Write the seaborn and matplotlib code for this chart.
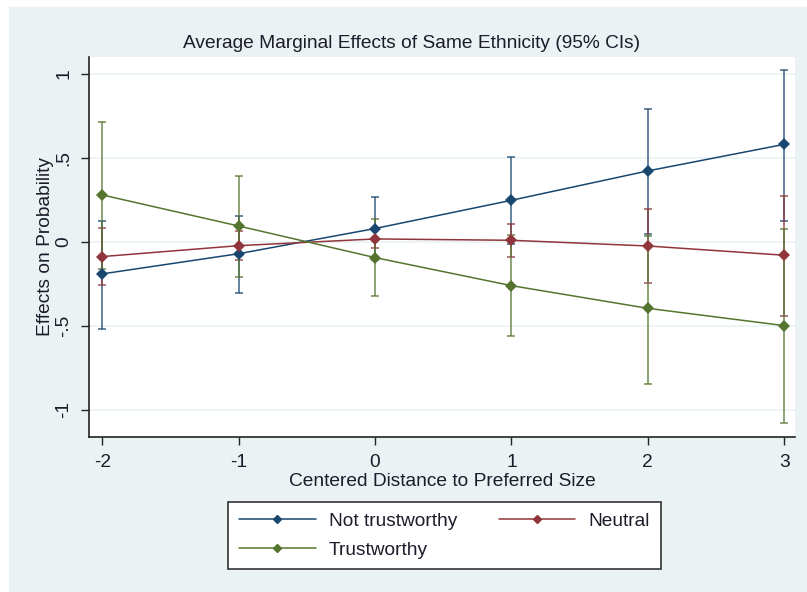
import matplotlib
matplotlib.use("Agg")
import matplotlib.pyplot as plt
import matplotlib.patches as mpatches
from matplotlib.lines import Line2D
import seaborn as sns
import pandas as pd
import numpy as np

# ---- data ----
x_vals = [-2, -1, 0, 1, 2, 3]
not_trust = [-0.19, -0.07, 0.08, 0.248, 0.423, 0.581]
not_trust_lo = [-0.518, -0.304, -0.107, -0.010, 0.050, 0.125]
not_trust_hi = [0.125, 0.157, 0.268, 0.508, 0.792, 1.022]
neutral = [-0.087, -0.022, 0.018, 0.010, -0.024, -0.079]
neutral_lo = [-0.256, -0.107, -0.034, -0.089, -0.246, -0.439]
neutral_hi = [0.085, 0.063, 0.070, 0.107, 0.196, 0.276]
trust = [0.280, 0.095, -0.093, -0.260, -0.395, -0.498]
trust_lo = [-0.161, -0.208, -0.320, -0.562, -0.843, -1.080]
trust_hi = [0.714, 0.395, 0.134, 0.042, 0.038, 0.077]
series_names = ["Not trustworthy", "Neutral", "Trustworthy"]
colors = ["#1A476F", "#90353B", "#55752F"]
y_ticks = [-1, -0.5, 0, 0.5, 1]
y_labels = ["-1", "-.5", "0", ".5", "1"]

sns.set_theme(style="white")
plt.rcParams["font.family"] = ["Liberation Sans", "DejaVu Sans"]
TXT = "#1c1c2a"
BG = "#EAF2F3"
FS = 13.8

rows = []
for name, vals, lo, hi in zip(series_names, [not_trust, neutral, trust],
                              [not_trust_lo, neutral_lo, trust_lo],
                              [not_trust_hi, neutral_hi, trust_hi]):
    for xv, v, l, h in zip(x_vals, vals, lo, hi):
        rows.append(dict(x=xv, y=v, lo=l, hi=h, series=name))
df = pd.DataFrame(rows)

fig = plt.figure(figsize=(8.07, 5.92), dpi=100)
fig.patch.set_facecolor("white")
fig.patches.append(mpatches.Rectangle((9 / 807, 0), 1, (592 - 7) / 592,
                                      transform=fig.transFigure, color=BG, zorder=-5))
ax = fig.add_axes([89 / 807, (592 - 437) / 592, (795 - 89) / 807, (437 - 57) / 592])
ax.set_zorder(1)
ax.set_facecolor("white")

# CIs
for name, c in zip(series_names, colors):
    d = df[df.series == name]
    ax.errorbar(d.x, d.y, yerr=[d.y - d.lo, d.hi - d.y], fmt="none", ecolor=c,
                elinewidth=1.1, capsize=3, capthick=1.1, alpha=0.85, zorder=2)

sns.lineplot(data=df, x="x", y="y", hue="series", hue_order=series_names,
             palette=colors, marker="D", markersize=5.8, markeredgewidth=0,
             linewidth=1.1, legend=False, ax=ax, zorder=3, errorbar=None)

ax.set_xlim(-2.097, 3.079)
ax.set_ylim(-1.161, 1.101)
ax.set_yticks(y_ticks)
ax.set_yticklabels(y_labels, rotation=90, va="center")
ax.set_xticks(x_vals)
ax.set_xticklabels([str(v) for v in x_vals])
ax.grid(axis="y", color=BG, linewidth=1.2)
ax.grid(axis="x", visible=False)
for s in ["top", "right"]:
    ax.spines[s].set_visible(False)
for s in ["left", "bottom"]:
    ax.spines[s].set_color("#222222")
    ax.spines[s].set_linewidth(1.2)
ax.tick_params(axis="both", which="major", direction="out", length=5.5, width=1,
               color="#222222", labelsize=FS, labelcolor=TXT, left=True, bottom=True)
ax.tick_params(axis="y", pad=6.5)
ax.tick_params(axis="x", pad=7)

ax.set_xlabel("Centered Distance to Preferred Size", fontsize=FS, color=TXT, labelpad=1.5)
ax.set_ylabel("Effects on Probability", fontsize=FS, color=TXT, labelpad=1)
fig.text(412 / 807, 1 - 43 / 592, "Average Marginal Effects of Same Ethnicity (95% CIs)",
         ha="center", va="center", fontsize=FS, color=TXT)

handles = [Line2D([], [], color=colors[0], marker="D", markersize=4, linewidth=1.1),
           Line2D([], [], color=colors[2], marker="D", markersize=4, linewidth=1.1),
           Line2D([], [], color=colors[1], marker="D", markersize=4, linewidth=1.1)]
labels = [series_names[0], series_names[2], series_names[1]]
leg = fig.legend(handles, labels, loc="center", bbox_to_anchor=(444.5 / 807, 1 - 535.5 / 592),
                 ncol=2, fontsize=FS, frameon=True, fancybox=False, framealpha=1,
                 edgecolor="#333333", handlelength=4.0, columnspacing=2.15,
                 labelspacing=0.62, borderpad=0.55, handletextpad=0.7)
leg.get_frame().set_linewidth(1.2)
for t in leg.get_texts():
    t.set_color(TXT)

fig.savefig("out.png", dpi=100, facecolor=fig.get_facecolor())
